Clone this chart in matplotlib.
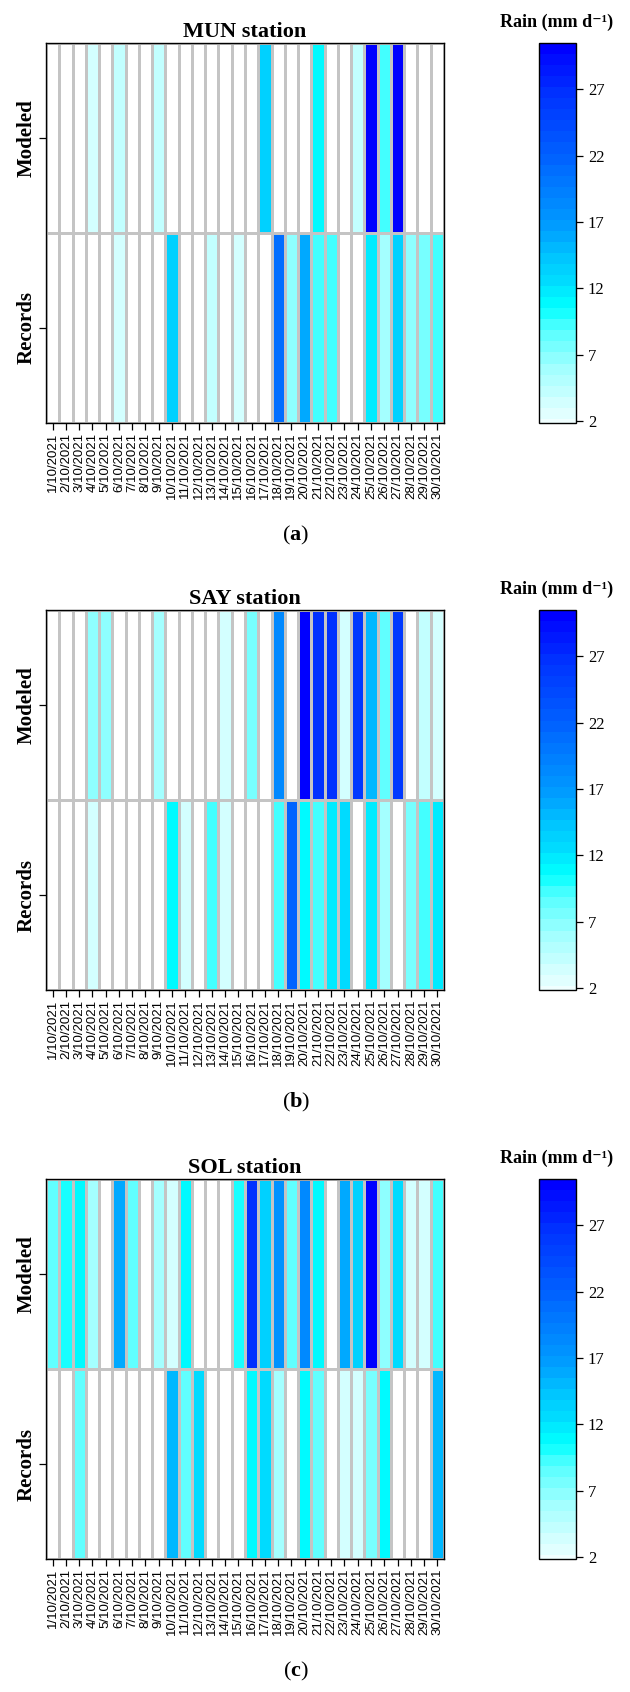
import numpy as np
import matplotlib
matplotlib.use("Agg")
import matplotlib.pyplot as plt
from matplotlib.colors import LinearSegmentedColormap, BoundaryNorm
from matplotlib.cm import ScalarMappable

plt.rcParams["mathtext.fontset"] = "custom"
plt.rcParams["mathtext.rm"] = "Liberation Serif"
plt.rcParams["mathtext.bf"] = "Liberation Serif:bold"

# daily rain (mm/d), 1..30 Oct 2021 (0 = no rain)
days = ["%d/10/2021" % d for d in range(1, 31)]
rows = ["Records", "Modeled"]

mun_modeled = [0, 0, 0, 3, 0, 4.5, 0, 0, 4.5, 0, 0, 0, 0, 0, 0, 0, 13.5, 0, 0, 0,
               11.2, 1.2, 0, 4.5, 30, 9.2, 30, 0, 0, 0]
mun_records = [0, 0, 0, 0, 0, 3, 0, 0, 0, 13, 1.2, 0, 4.5, 0, 3, 0, 0, 21, 6.5, 16,
               9.2, 9.6, 1.2, 0, 12, 5.5, 13.5, 7, 7.3, 9]

say_modeled = [0, 0, 0, 6.5, 6.5, 1.2, 0, 0, 6, 0, 0, 0, 0, 3, 0, 7.5, 0, 18, 0, 30,
               27, 27, 3, 25.5, 15, 8.5, 25.5, 0, 4.5, 3]
say_records = [0, 0, 0, 3, 0, 0, 0, 0, 0, 11.2, 3, 0, 9, 3, 0, 0, 0, 9.6, 22, 11.2,
               9.2, 12, 12.5, 1.2, 12, 5.5, 1.2, 7.3, 9.6, 12]

sol_modeled = [8.5, 10, 10.5, 6, 0, 15.5, 8.5, 1.2, 6, 3, 10.5, 0, 0, 0, 9.8, 27, 13.5,
               17.5, 8.5, 18, 10.5, 1.2, 15.5, 13.5, 30, 6.5, 12.5, 3, 3, 9.6]
sol_records = [0, 0, 8, 1.2, 0, 1.2, 0, 0, 0, 15, 8, 12.5, 0, 1.2, 0, 11, 12.5, 5.5, 0,
               11, 8, 1.2, 3, 3, 7.3, 11, 1.2, 0, 1.2, 15]

stations = ["MUN station", "SAY station", "SOL station"]
panel_tags = ["a", "b", "c"]
panel_data = [(mun_records, mun_modeled), (say_records, say_modeled),
              (sol_records, sol_modeled)]

cbar_ticks = [2, 7, 12, 17, 22, 27]
vmin, vmax = 0.5, 30.5
cbar_low = 1.85

# white -> cyan -> blue ramp
anchors = [(0.5, "#ffffff"), (2, "#e4ffff"), (4, "#c0ffff"), (6, "#9cffff"),
           (7, "#80ffff"), (8.5, "#58ffff"), (10, "#14ffff"), (10.5, "#00ffff"),
           (12, "#00e2ff"), (14, "#00c8ff"), (17, "#0098ff"), (19, "#0084ff"),
           (22, "#0062ff"), (27, "#0030ff"), (30.5, "#0000ff")]
cmap = LinearSegmentedColormap.from_list(
    "rain", [((v - vmin) / (vmax - vmin), c) for v, c in anchors])
cmap.set_under("white")
bounds = np.linspace(vmin, vmax, 37)
norm = BoundaryNorm(bounds, cmap.N)

W, H = 630, 1692
fig = plt.figure(figsize=(W / 100, H / 100), dpi=100)


def box(x0, y0, w, h):
    return [x0 / W, 1 - (y0 + h) / H, w / W, h / H]


serif = ["Liberation Serif", "DejaVu Serif"]
tops = [43, 610, 1179]
ax_h = 380

for i, (rec, mod) in enumerate(panel_data):
    top = tops[i]
    ax = fig.add_axes(box(46, top, 398, ax_h))
    z = np.array([rec, mod], dtype=float)
    z[z == 0] = -1
    xe = np.arange(0.5, len(days) + 1, 1)
    ye = np.array([0, 1, 2])
    ax.pcolormesh(xe, ye, z, cmap=cmap, norm=norm,
                  edgecolors="#c4c4c4", linewidth=1.0)
    ax.set_xlim(0.5, len(days) + 0.5)
    ax.set_ylim(0, 2)
    ax.set_xticks(np.arange(1, len(days) + 1))
    ax.set_xticklabels(days, rotation=90, fontsize=9.5, family="Liberation Sans")
    ax.set_yticks([0.5, 1.5])
    ax.set_yticklabels(rows, rotation=90, va="center", fontsize=15,
                       fontweight="bold", family=serif)
    ax.tick_params(length=5, width=0.9, pad=2)
    for s in ax.spines.values():
        s.set_linewidth(1.0)
    ax.set_title(stations[i], fontsize=16, fontweight="bold", family=serif, pad=4)

    # colorbar
    cax = fig.add_axes(box(539, top, 37, ax_h))
    edges = np.concatenate([[cbar_low], bounds[bounds > cbar_low]])
    mids = (edges[:-1] + edges[1:]) / 2
    sm = ScalarMappable(norm=norm, cmap=cmap)
    cb = fig.colorbar(sm, cax=cax, boundaries=edges, values=mids,
                      spacing="proportional", ticks=cbar_ticks)
    cb.minorticks_off()
    cb.outline.set_linewidth(1.0)
    cax.tick_params(length=5, width=0.9, labelsize=12)
    for lab in cax.get_yticklabels():
        lab.set_family(serif)
    fig.text(557 / W, 1 - (top - 21) / H, "Rain (mm d\u207b\u00b9)",
             ha="center", va="center", fontsize=13, fontweight="bold", family=serif)

    fig.text(296 / W, 1 - (top + ax_h + 112) / H,
             r"($\mathbf{%s}$)" % panel_tags[i],
             ha="center", va="center", fontsize=16, family=serif)

fig.savefig("out.png", dpi=100)
